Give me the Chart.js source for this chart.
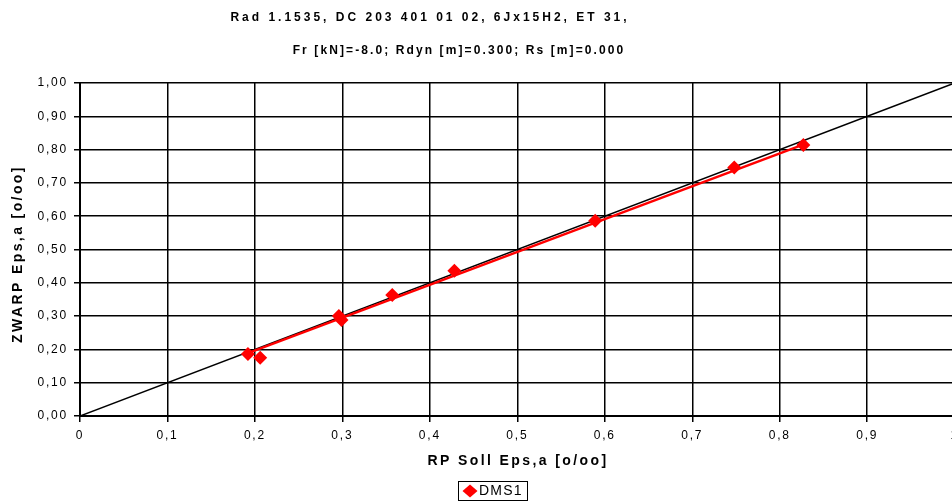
<!DOCTYPE html>
<html>
<head>
<meta charset="utf-8">
<script src="https://cdn.jsdelivr.net/npm/chart.js@4/dist/chart.umd.min.js"></script>
<style>
  html, body { margin: 0; padding: 0; background: #fff; overflow: hidden; }
  canvas { display: block; }
</style>
</head>
<body>
<canvas id="zwarpChart" width="964" height="501"></canvas>
<script>
const titleLines = ['Rad 1.1535, DC 203 401 01 02, 6Jx15H2, ET 31,', 'Fr [kN]=-8.0; Rdyn [m]=0.300; Rs [m]=0.000'];
const xTitle = 'RP Soll Eps,a [o/oo]';
const yTitle = 'ZWARP Eps,a [o/oo]';
const seriesName = 'DMS1';

// measured points
const sollX = [0.192, 0.206, 0.296, 0.299, 0.357, 0.428, 0.589, 0.748, 0.827];
const zwarpY = [0.186, 0.175, 0.300, 0.288, 0.363, 0.436, 0.586, 0.746, 0.814];

// red trend line ends, black 1:1 line
const trendX = [0.192, 0.826];
const trendY = [0.189, 0.814];
const refX = [0, 1];
const refY = [0, 1];

const xTickLabels = ['0', '0,1', '0,2', '0,3', '0,4', '0,5', '0,6', '0,7', '0,8', '0,9', '1'];
const yTickLabels = ['0,00', '0,10', '0,20', '0,30', '0,40', '0,50', '0,60', '0,70', '0,80', '0,90', '1,00'];

const pts = (xs, ys) => xs.map((x, i) => ({ x: x, y: ys[i] }));

const excelText = {
  id: 'excelText',
  beforeDraw(chart) {
    chart.ctx.letterSpacing = '1.8px';
  },
  afterDraw(chart) {
    const ctx = chart.ctx;
    ctx.save();
    ctx.fillStyle = '#000';
    ctx.textBaseline = 'middle';
    ctx.textAlign = 'center';

    ctx.font = 'bold 12px "Liberation Sans", Arial, sans-serif';
    ctx.letterSpacing = '3px';
    ctx.fillText(titleLines[0], 430, 18);
    ctx.letterSpacing = '2.1px';
    ctx.fillText(titleLines[1], 459, 51);

    ctx.letterSpacing = '2.4px';
    ctx.font = 'bold 14px "Liberation Sans", Arial, sans-serif';
    ctx.fillText(xTitle, 518, 461);

    ctx.save();
    ctx.translate(18, 254);
    ctx.rotate(-Math.PI / 2);
    ctx.fillText(yTitle, 0, 0);
    ctx.restore();

    // legend box
    ctx.letterSpacing = '0px';
    ctx.strokeStyle = '#000';
    ctx.lineWidth = 1;
    ctx.strokeRect(458.5, 481.5, 69, 19);
    ctx.fillStyle = '#ff0000';
    ctx.beginPath();
    ctx.moveTo(470, 484.5);
    ctx.lineTo(477.5, 491);
    ctx.lineTo(470, 497.5);
    ctx.lineTo(462.5, 491);
    ctx.closePath();
    ctx.fill();
    ctx.fillStyle = '#000';
    ctx.textAlign = 'left';
    ctx.letterSpacing = '1.2px';
    ctx.font = '14px "Liberation Sans", Arial, sans-serif';
    ctx.fillText(seriesName, 479, 491);
    ctx.restore();
  }
};

const tickFont = { family: '"Liberation Sans", Arial, sans-serif', size: 12 };

new Chart(document.getElementById('zwarpChart'), {
  type: 'scatter',
  data: {
    datasets: [
      {
        label: seriesName,
        data: pts(sollX, zwarpY),
        pointStyle: 'rectRot',
        pointRadius: 7,
        pointBackgroundColor: '#ff0000',
        pointBorderColor: '#ff0000',
        pointBorderWidth: 0,
        showLine: false,
        order: 0
      },
      {
        label: 'trend',
        data: pts(trendX, trendY),
        showLine: true,
        borderColor: '#ff0000',
        borderWidth: 2.5,
        pointRadius: 0,
        order: 1
      },
      {
        label: '1:1',
        data: pts(refX, refY),
        showLine: true,
        borderColor: '#000',
        borderWidth: 1.5,
        pointRadius: 0,
        order: 2
      }
    ]
  },
  options: {
    responsive: false,
    animation: false,
    devicePixelRatio: 1,
    layout: { padding: { top: 83, right: 8, left: 0, bottom: 0 } },
    plugins: {
      legend: { display: false },
      title: { display: false },
      tooltip: { enabled: false }
    },
    scales: {
      x: {
        type: 'linear',
        min: 0,
        max: 1,
        afterFit(scale) { scale.height = 85; },
        ticks: {
          stepSize: 0.1,
          color: '#000',
          font: tickFont,
          padding: 6,
          maxRotation: 0,
          callback: (v, i) => xTickLabels[i]
        },
        grid: { color: '#000', lineWidth: 1.5, tickLength: 6 },
        border: { color: '#000', width: 2 }
      },
      y: {
        type: 'linear',
        min: 0,
        max: 1,
        afterFit(scale) { scale.width = 80; },
        ticks: {
          stepSize: 0.1,
          color: '#000',
          font: tickFont,
          padding: 6,
          callback: (v, i) => yTickLabels[i]
        },
        grid: { color: '#000', lineWidth: 1.5, tickLength: 6 },
        border: { color: '#000', width: 2 }
      }
    }
  },
  plugins: [excelText]
});
</script>
</body>
</html>
